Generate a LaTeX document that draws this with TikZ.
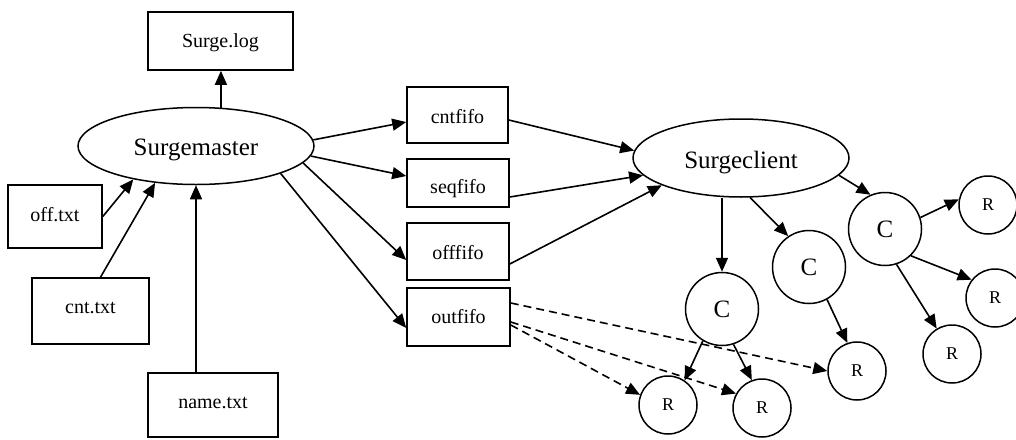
\documentclass[tikz,border=0pt]{standalone}
\usepackage{fontspec}
\setmainfont{Liberation Serif}
\usetikzlibrary{arrows.meta,shapes.geometric}

\begin{document}
\begin{tikzpicture}[x=1pt,y=-1pt,
  every node/.style={inner sep=0pt},
  box/.style={draw, rectangle, line width=1.6pt},
  lab/.style={font=\fontsize{20}{24}\selectfont, anchor=base},
  oval/.style={draw, ellipse, line width=1.5pt, font=\fontsize{25}{30}\selectfont},
  cnode/.style={draw, circle, line width=1.5pt, minimum size=73pt, font=\fontsize{25}{30}\selectfont},
  rnode/.style={draw, circle, line width=1.5pt, minimum size=58pt, font=\fontsize{18}{22}\selectfont},
  arr/.style={line width=1.6pt, -{Triangle[length=14pt,width=12pt]}},
  darr/.style={arr, dash pattern=on 8pt off 5pt}]

\fill[white] (0,0) rectangle (1016,439);
\useasboundingbox (0,0) rectangle (1016,439);

% master side
\node[box, minimum width=145pt, minimum height=58pt,
      label={[lab, yshift=-2pt]center:Surge.log}] (sl) at (220.5,41) {};
\node[oval, minimum width=236pt, minimum height=77pt,
      label={[font=\fontsize{25}{30}\selectfont, anchor=base, yshift=-4pt]center:Surgemaster}] (sm) at (196,146) {};
\node[box, minimum width=94pt, minimum height=63pt,
      label={[lab, yshift=1.5pt]center:off.txt}] (off) at (55,216.5) {};
\node[box, minimum width=117pt, minimum height=66pt,
      label={[lab, yshift=3pt]center:cnt.txt}] (cnt) at (90.5,311) {};
\node[box, minimum width=130pt, minimum height=64pt,
      label={[lab, yshift=2pt]center:name.txt}] (nm) at (213,405) {};

% fifos
\node[box, minimum width=101pt, minimum height=56pt,
      label={[lab, yshift=-1.7pt]center:cntfifo}] (cf) at (457.5,115) {};
\node[box, minimum width=102pt, minimum height=48pt,
      label={[lab, yshift=-6pt]center:seqfifo}] (sf) at (458,183) {};
\node[box, minimum width=102pt, minimum height=57pt,
      label={[lab, yshift=-1.5pt]center:offfifo}] (of) at (458,251.5) {};
\node[box, minimum width=103pt, minimum height=58pt,
      label={[lab, yshift=0pt]center:outfifo}] (ou) at (458.5,317) {};

% client side
\node[oval, minimum width=216pt, minimum height=78pt,
      label={[font=\fontsize{25}{30}\selectfont, anchor=base, yshift=-5pt]center:Surgeclient}] (sc) at (741,158) {};
\node[cnode] (c1) at (722,309) {C};
\node[cnode] (c2) at (809,267) {C};
\node[cnode] (c3) at (885,229) {C};
\node[rnode] (r1) at (668,405) {R};
\node[rnode] (r2) at (762,408) {R};
\node[rnode] (r3) at (857,371) {R};
\node[rnode] (r4) at (988,205) {R};
\node[rnode] (r5) at (995,298) {R};
\node[rnode] (r6) at (952,354) {R};

% master connectors
\draw[arr] (sm.57.5) -- (sm.57.5 |- sl.south);
\draw[arr] (off.east) -- (sm.208.5);
\draw[arr] ([xshift=10pt]cnt.north) -- (sm.222);
\draw[arr] (nm.north -| sm.south) -- (sm.south);

\draw[arr] (sm.3.5) -- ([yshift=-7pt]cf.west);
\draw[arr] (sm.-5.5) -- ([yshift=7pt]sf.west);
\draw[arr] (sm.-9.5) -- ([yshift=-8.5pt]of.west);
\draw[arr] (sm.-18) -- ([yshift=-11pt]ou.west);

% fifos to client
\draw[arr] ([yshift=-5pt]cf.east) -- (sc.176.7);
\draw[arr] ([yshift=-14pt]sf.east) -- (sc.190);
\draw[arr] ([yshift=-12.5pt]of.east) -- (sc.199);

% client to children
\draw[arr] (sc.south -| c1.north) -- (c1.north);
\draw[arr] (sc.-77) -- (c2.124.5);
\draw[arr] (sc.-10.5) -- (c3.113);

\draw[arr] (c3.18.4) -- (r4.169);
\draw[arr] (c3.-46) -- (r5.142);
\draw[arr] (c3.-72) -- (r6.121);
\draw[arr] (c2.-61) -- (r3.109.5);
\draw[arr] (c1.-121) -- (r1.56);
\draw[arr] (c1.-72) -- (r2.110);

% output fifo
\draw[darr] ([yshift=14pt]ou.east) -- (r3.180);
\draw[darr] ([yshift=-5pt]ou.east) -- (r2.151);
\draw[darr] ([yshift=-8pt]ou.east) -- (r1.160);
\end{tikzpicture}
\end{document}
